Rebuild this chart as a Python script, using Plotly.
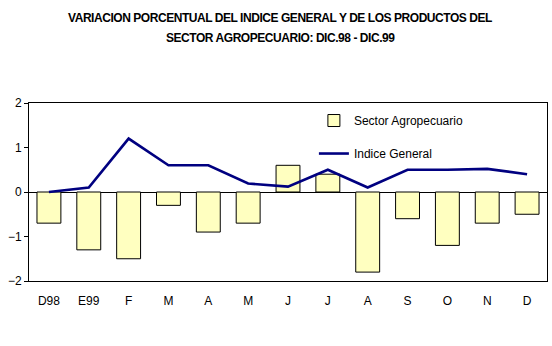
import plotly.graph_objects as go

# Monthly categories, Dec 1998 through Dec 1999
months = ["D98", "E99", "F", "M", "A", "M", "J", "J", "A", "S", "O", "N", "D"]
# Percentage change of the agricultural sector products (bars)
sector_agropecuario = [-0.7, -1.3, -1.5, -0.3, -0.9, -0.7, 0.6, 0.4, -1.8, -0.6, -1.2, -0.7, -0.5]
# Percentage change of the general index (line)
indice_general = [0.0, 0.1, 1.2, 0.6, 0.6, 0.19, 0.12, 0.5, 0.1, 0.5, 0.5, 0.52, 0.4]
y_ticks = [-2, -1, 0, 1, 2]

# distinct positions so repeated month letters stay separate categories
x_pos = list(range(len(months)))

font_main = "Liberation Sans, Arial, sans-serif"
title_style = "letter-spacing:-0.45px"

fig = go.Figure()
fig.add_trace(go.Bar(
    x=x_pos, y=sector_agropecuario, name="Sector Agropecuario",
    legendgroup="agro",
    marker=dict(color="#FFFFC0", line=dict(color="black", width=1)),
    width=0.6,
))
fig.add_trace(go.Scatter(
    x=x_pos, y=indice_general, name="Indice General", mode="lines",
    legendgroup="general",
    line=dict(color="#000080", width=2.6),
))

fig.update_layout(
    width=552, height=346,
    margin=dict(l=29, r=5, t=103, b=65),
    paper_bgcolor="white", plot_bgcolor="white",
    font=dict(family=font_main, size=12, color="black"),
    showlegend=True,
    legend=dict(
        x=0.55, y=0.983, xanchor="left", yanchor="top",
        bgcolor="white", borderwidth=0,
        font=dict(size=12), tracegroupgap=14,
        traceorder="grouped",
    ),
    xaxis=dict(
        tickmode="array", tickvals=x_pos, ticktext=months,
        range=[-0.5, len(months) - 0.5],
        showline=True, linecolor="black", linewidth=1, mirror=True,
        ticks="", showgrid=False, zeroline=False, ticklabelstandoff=9,
    ),
    yaxis=dict(
        range=[-2, 2], tickvals=y_ticks,
        showline=True, linecolor="black", linewidth=1, mirror=True,
        ticks="outside", ticklen=4, tickcolor="black",
        showgrid=False, zeroline=True, zerolinecolor="black", zerolinewidth=1,
    ),
    annotations=[
        dict(text=f"<b><span style='{title_style}'>VARIACION PORCENTUAL DEL INDICE GENERAL Y DE LOS PRODUCTOS DEL</span></b>",
             xref="paper", yref="paper", x=(280 - 29) / 518, y=(281 - 17.5) / 178,
             xanchor="center", yanchor="middle", showarrow=False,
             font=dict(family="Liberation Sans", size=12)),
        dict(text=f"<b><span style='{title_style}'>SECTOR AGROPECUARIO: DIC.98 - DIC.99</span></b>",
             xref="paper", yref="paper", x=(280 - 29) / 518, y=(281 - 38) / 178,
             xanchor="center", yanchor="middle", showarrow=False,
             font=dict(family="Liberation Sans", size=12)),
    ],
)

fig.write_html("out.html")
